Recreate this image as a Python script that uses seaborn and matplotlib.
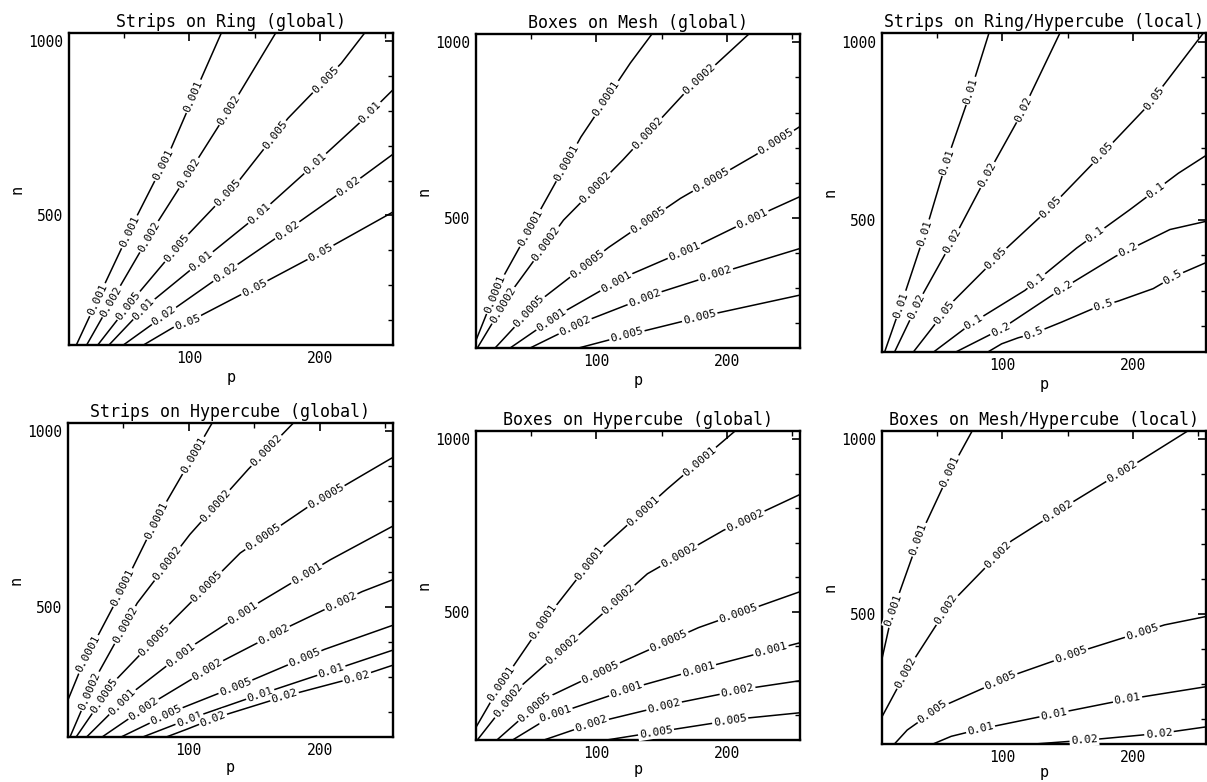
import numpy as np
import seaborn as sns
import matplotlib.pyplot as plt
from matplotlib.ticker import FixedLocator

sns.set_style("white")
plt.rcParams["font.family"] = ["DejaVu Sans Mono", "DejaVu Sans"]
plt.rcParams["text.color"] = "black"
plt.rcParams["axes.labelcolor"] = "black"
plt.rcParams["xtick.color"] = "black"
plt.rcParams["ytick.color"] = "black"

# Strips on Ring (global)
ring_levels = ["0.001", "0.002", "0.005", "0.01", "0.02", "0.05"]
ring_p = [[13.6, 32.7, 58.3, 85.0, 109.3, 124.6],
          [21.5, 44.5, 74.8, 106.7, 138.1, 166.2],
          [30.0, 58.3, 97.8, 137.3, 175.6, 216.4, 234.3],
          [38.6, 65.9, 108.0, 150.9, 190.9, 230.4, 256.0],
          [49.6, 78.2, 126.4, 173.0, 217.2, 256.0],
          [65.0, 87.6, 100.9, 150.1, 197.8, 256.0]]
ring_n = [[128, 282, 486, 683, 894, 1024],
          [128, 280, 475, 663, 849, 1024],
          [128, 264, 440, 596, 779, 937, 1024],
          [128, 236, 365, 495, 630, 766, 861],
          [128, 205, 332, 452, 569, 676],
          [128, 178, 197, 293, 388, 510]]

# Boxes on Mesh (global)
mesh_levels = ["0.0001", "0.0002", "0.0005", "0.001", "0.002", "0.005"]
mesh_p = [[8.0, 23.9, 55.0, 88.3, 126.1, 142.7],
          [9.0, 35.4, 75.0, 120.5, 167.6, 216.9],
          [22.6, 55.0, 109.5, 164.5, 222.0, 256.0],
          [34.1, 70.8, 122.0, 178.6, 233.5, 256.0],
          [49.4, 89.8, 147.0, 205.9, 256.0],
          [86.5, 128.2, 188.0, 256.0]]
mesh_n = [[150, 298, 507, 730, 941, 1024],
          [128, 291, 493, 665, 855, 1024],
          [128, 258, 415, 555, 679, 760],
          [128, 222, 331, 422, 522, 560],
          [128, 202, 285, 355, 412],
          [128, 169, 224, 279]]

# Strips on Ring/Hypercube (local)
lstrip_levels = ["0.01", "0.02", "0.05", "0.1", "0.2", "0.5"]
lstrip_p = [[10.0, 23.1, 42.2, 57.0, 74.6, 89.9],
            [17.6, 36.3, 63.9, 88.6, 113.6, 144.2],
            [32.0, 61.3, 99.6, 136.6, 173.5, 211.8, 254.0],
            [47.5, 77.2, 117.4, 157.0, 197.8, 234.8, 256.0],
            [64.5, 99.0, 141.7, 186.9, 228.4, 256.0],
            [89.0, 99.6, 112.3, 122.6, 145.5, 169.7, 188.8, 215.6, 232.0, 256.0]]
lstrip_n = [[128, 266, 477, 659, 845, 1024],
            [128, 271, 453, 625, 790, 1024],
            [128, 266, 407, 533, 673, 821, 1024],
            [128, 210, 301, 420, 528, 630, 680],
            [128, 192, 296, 397, 472, 495],
            [128, 151, 168, 178, 212, 250, 271, 306, 341, 379]]

# Strips on Hypercube (global)
hstrip_levels = ["0.0001", "0.0002", "0.0005", "0.001", "0.002", "0.005", "0.01", "0.02"]
hstrip_p = [[8.0, 18.3, 46.3, 76.9, 118.0],
            [9.5, 28.4, 60.8, 101.0, 145.8, 180.0],
            [14.2, 43.0, 88.4, 139.4, 190.5, 256.0],
            [22.2, 54.0, 103.7, 154.7, 208.3, 256.0],
            [34.0, 70.0, 122.8, 177.7, 232.5, 256.0],
            [48.5, 91.0, 147.6, 203.7, 256.0],
            [65.0, 102.4, 157.2, 209.6, 256.0],
            [83.0, 98.6, 121.6, 175.1, 228.7, 256.0]]
hstrip_n = [[234, 328, 527, 759, 1024],
            [128, 292, 510, 706, 893, 1024],
            [128, 285, 462, 653, 783, 926],
            [128, 246, 390, 514, 634, 730],
            [128, 220, 339, 445, 543, 577],
            [128, 205, 289, 378, 447],
            [128, 182, 253, 318, 376],
            [128, 150, 184, 246, 299, 333]]

# Boxes on Hypercube (global)
hbox_levels = ["0.0001", "0.0002", "0.0005", "0.001", "0.002", "0.005"]
hbox_p = [[8.0, 26.8, 60.7, 102.5, 154.4, 206.3],
          [9.0, 39.3, 85.3, 139.2, 197.4, 256.0],
          [24.0, 59.0, 117.7, 178.4, 256.0],
          [36.0, 68.5, 129.6, 191.1, 256.0],
          [60.0, 98.7, 158.7, 218.9, 256.0],
          [108.0, 154.4, 213.9, 256.0]]
hbox_n = [[165, 288, 476, 678, 856, 1024],
          [128, 274, 428, 610, 736, 840],
          [128, 245, 351, 454, 558],
          [128, 203, 281, 346, 410],
          [128, 178, 233, 279, 300],
          [128, 156, 191, 207]]

# Boxes on Mesh/Hypercube (local)
lbox_levels = ["0.001", "0.002", "0.005", "0.01", "0.02"]
lbox_p = [[8.0, 15.8, 35.9, 61.0, 77.0],
          [8.0, 26.5, 59.6, 106.9, 155.4, 205.7, 242.0],
          [17.5, 27.3, 50.7, 106.9, 165.6, 224.3, 256.0],
          [47.0, 61.0, 86.0, 142.1, 195.7, 256.0],
          [124.7, 167.6, 222.2, 256.0]]
lbox_n = [[372, 503, 714, 915, 1024],
          [206, 335, 527, 709, 824, 939, 1024],
          [128, 168, 230, 323, 400, 469, 493],
          [128, 150, 173, 216, 256, 292],
          [128, 140, 159, 177]]

W, H = 1207, 782
fig = plt.figure(figsize=(W / 100, H / 100), dpi=100)


def rect(left, right, top, bottom):
    return [left / W, 1 - bottom / H, (right - left) / W, (bottom - top) / H]


def label_line(ax, p, n, text, first=50, step=75, margin=28):
    # put the level labels along the line, every ~75 px, like clabel
    pts = ax.transData.transform(np.column_stack([p, n]))
    seg = np.diff(pts, axis=0)
    seglen = np.hypot(seg[:, 0], seg[:, 1])
    cum = np.concatenate([[0], np.cumsum(seglen)])
    s = first
    while s < cum[-1] - margin:
        i = min(max(np.searchsorted(cum, s) - 1, 0), len(seg) - 1)
        t = (s - cum[i]) / seglen[i]
        xy = pts[i] + t * seg[i]
        ang = np.degrees(np.arctan2(seg[i, 1], seg[i, 0]))
        if ang > 90:
            ang -= 180
        if ang < -90:
            ang += 180
        x, y = ax.transData.inverted().transform(xy)
        ax.text(x, y, text, rotation=ang, rotation_mode="anchor",
                ha="center", va="center", fontsize=8, zorder=3,
                bbox=dict(boxstyle="square,pad=0.12", fc="white", ec="none"))
        s += step


def panel(box, title, levels, ps, ns, xpad=3):
    ax = fig.add_axes(rect(*box))
    ax.set_xlim(8, 256)
    ax.set_ylim(128, 1024)
    for lev, p, n in zip(levels, ps, ns):
        sns.lineplot(x=p, y=n, sort=False, estimator=None, color="black",
                     linewidth=1.1, ax=ax, legend=False)
    for lev, p, n in zip(levels, ps, ns):
        label_line(ax, p, n, lev)
    ax.xaxis.set_major_locator(FixedLocator([100, 200]))
    ax.xaxis.set_minor_locator(FixedLocator([50, 150, 250]))
    ax.yaxis.set_major_locator(FixedLocator([500, 1000]))
    ax.yaxis.set_minor_locator(FixedLocator([200, 300, 400, 600, 700, 800, 900]))
    ax.tick_params(which="both", direction="in", top=True, right=True,
                   labelsize=10.5, pad=4)
    ax.tick_params(which="major", length=6, width=1.2)
    ax.tick_params(which="minor", length=3.5, width=1.0)
    for sp in ax.spines.values():
        sp.set_linewidth(1.7)
        sp.set_color("black")
    ax.set_title(title, fontsize=12, pad=4)
    ax.set_xlabel("p", fontsize=11, labelpad=xpad)
    ax.set_ylabel("n", fontsize=11, labelpad=3)
    return ax


panel((69, 393, 33, 345), "Strips on Ring (global)", ring_levels, ring_p, ring_n)
panel((476, 800, 34, 348), "Boxes on Mesh (global)", mesh_levels, mesh_p, mesh_n)
panel((882, 1206, 33, 352), "Strips on Ring/Hypercube (local)", lstrip_levels, lstrip_p, lstrip_n)
panel((68, 393, 423, 737), "Strips on Hypercube (global)", hstrip_levels, hstrip_p, hstrip_n, xpad=2)
panel((476, 800, 431, 740), "Boxes on Hypercube (global)", hbox_levels, hbox_p, hbox_n, xpad=1)
panel((882, 1206, 431, 744), "Boxes on Mesh/Hypercube (local)", lbox_levels, lbox_p, lbox_n, xpad=0)

fig.savefig("out.png", dpi=100, facecolor="white")
